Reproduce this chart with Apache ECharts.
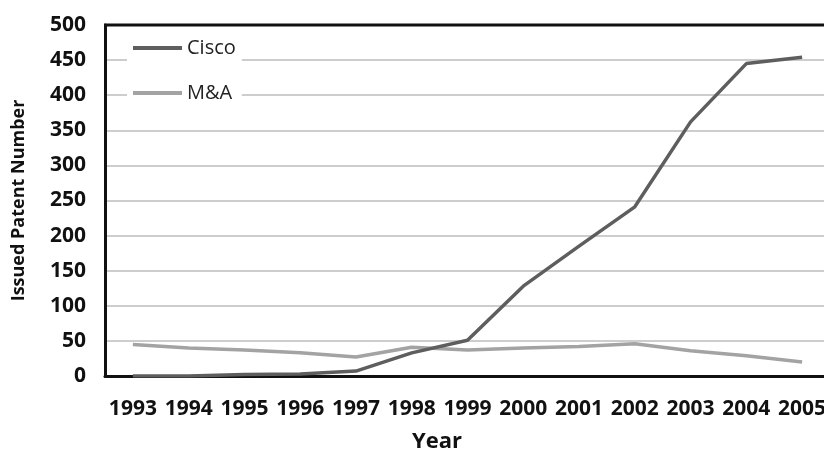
<!DOCTYPE html>
<html>
<head>
<meta charset="utf-8">
<script src="https://cdn.jsdelivr.net/npm/echarts@6/dist/echarts.min.js"></script>
<style>
  html, body { margin: 0; padding: 0; background: #fff; }
  #chart { width: 824px; height: 455px; }
</style>
</head>
<body>
<div id="chart"></div>
<script>
// values
const years = ['1993', '1994', '1995', '1996', '1997', '1998', '1999', '2000', '2001', '2002', '2003', '2004', '2005']
const cisco = [0, 0, 2, 3, 7, 33, 51, 128, 185, 241, 362, 445, 454]
const mna = [45, 40, 37, 33, 27, 41, 37, 40, 42, 46, 36, 29, 20]

const font = '"Open Sans", sans-serif'

const chart = echarts.init(document.getElementById('chart'))
const option = {
  backgroundColor: '#fff',
  animation: false,
  grid: { left: 105, right: -6, top: 25, bottom: 79, outerBoundsMode: 'none' },
  legend: {
    orient: 'vertical',
    left: 127,
    top: 36,
    itemWidth: 49,
    itemHeight: 4,
    itemGap: 25,
    backgroundColor: '#fff',
    padding: [2, 6, 2, 6],
    icon: 'rect',
    textStyle: { fontFamily: font, fontSize: 20, lineHeight: 20, color: '#222' },
    data: ['Cisco', 'M&A']
  },
  xAxis: {
    type: 'category',
    data: years,
    boundaryGap: true,
    axisLine: { lineStyle: { color: '#111', width: 3 } },
    axisTick: { show: false },
    axisLabel: { fontFamily: font, fontSize: 21, fontWeight: 'bold', color: '#111', margin: 23, interval: 0 }
  },
  yAxis: {
    type: 'value',
    min: 0,
    max: 500,
    interval: 50,
    name: 'Issued Patent Number',
    nameLocation: 'middle',
    nameGap: 77,
    nameTextStyle: { fontFamily: font, fontSize: 18, fontWeight: 'bold', color: '#111' },
    axisLine: { show: true, lineStyle: { color: '#111', width: 3 } },
    axisTick: { show: false },
    axisLabel: { fontFamily: font, fontSize: 21, fontWeight: 'bold', color: '#111', margin: 19 },
    splitLine: { lineStyle: { color: '#bdbdbd', width: 1.5 } }
  },
  series: [
    {
      name: 'Cisco',
      type: 'line',
      data: cisco,
      symbol: 'none',
      color: '#5e5e5e',
      lineStyle: { width: 3.5, color: '#5e5e5e' },
      z: 3
    },
    {
      name: 'M&A',
      type: 'line',
      data: mna,
      symbol: 'none',
      color: '#a3a3a3',
      lineStyle: { width: 3.5, color: '#a3a3a3' },
      z: 2
    }
  ],
  graphic: [
    {
      type: 'line',
      shape: { x1: 104, y1: 25, x2: 824, y2: 25 },
      style: { stroke: '#111', lineWidth: 3 },
      z: 1
    },
    {
      type: 'text',
      left: 412,
      top: 431,
      style: { text: 'Year', fontFamily: font, fontSize: 22, fontWeight: 'bold', fill: '#111' }
    }
  ]
}
chart.setOption(option)
</script>
</body>
</html>
